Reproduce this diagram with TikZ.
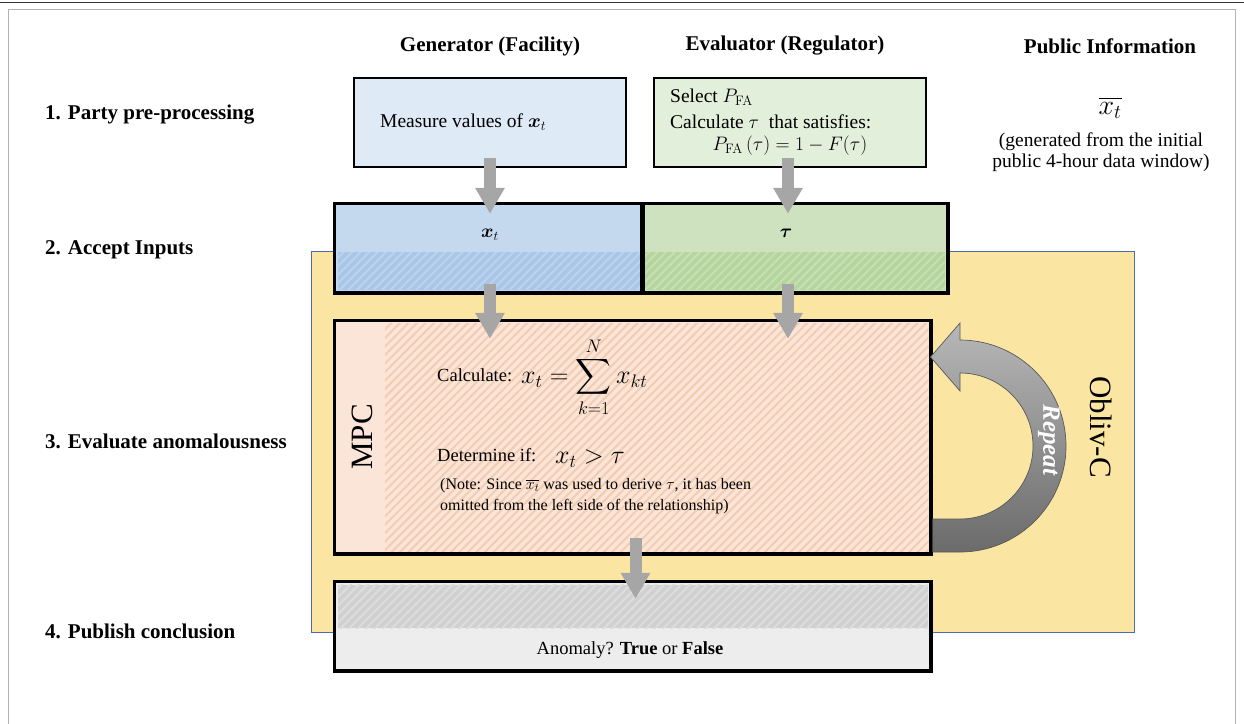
\RequirePackage{fix-cm}
\documentclass[tikz,border=0pt]{standalone}
\usepackage{amsmath,bm}
\usepackage[no-math]{fontspec}
\setmainfont{Liberation Serif}
\usetikzlibrary{patterns.meta,arrows.meta,shadings}
\newcommand\fsz[1]{\fontsize{#1}{1.1\dimexpr#1pt\relax}\selectfont}
\newcommand\fszl[2]{\fontsize{#1}{#2}\selectfont}
\definecolor{bluebox}{HTML}{DEEAF6}
\definecolor{greenbox}{HTML}{E2EFDA}
\definecolor{bluein}{HTML}{C5D9EE}
\definecolor{blueinh}{HTML}{A9C6E8}
\definecolor{blueins}{HTML}{BCD3EE}
\definecolor{greenin}{HTML}{CFE2BF}
\definecolor{greeninh}{HTML}{B4D69E}
\definecolor{greenins}{HTML}{C6E0B4}
\definecolor{yellowbg}{HTML}{FBE5A2}
\definecolor{yellowbd}{HTML}{4A6BAF}
\definecolor{mpcfill}{HTML}{FAE5D8}
\definecolor{mpcstripe}{HTML}{F4CCB0}
\definecolor{outfill}{HTML}{EDEDED}
\definecolor{outh}{HTML}{D0D0D0}
\definecolor{outs}{HTML}{DDDDDD}
\definecolor{arrowgray}{HTML}{A6A6A6}
\tikzset{
  hdr/.style={font=\fsz{21}\bfseries, inner sep=0pt},
  rowlab/.style={font=\fsz{21}\bfseries, anchor=west, inner sep=0pt},
  body/.style={font=\fsz{19.5}, inner sep=0pt},
  boxed/.style={draw=black, line width=2.5pt, minimum width=#1, inner sep=0pt},
  blockarrow/.style={draw=arrowgray, line width=12pt,
    -{Triangle[width=28pt,length=26pt]}, arrowgray},
}
\begin{document}
\begin{tikzpicture}[x=1pt,y=-1pt]
\useasboundingbox (0,0) rectangle (1244,723);
% page frame
\draw[black!80, line width=1.5pt] (0,2.5) -- (1244,2.5);
\draw[black!30, line width=1pt] (8,730) -- (8,9.5) -- (1235,9.5) -- (1235,730);

% headers
\node[hdr] (hgen) at (490,46) {Generator (Facility)};
\node[hdr] (hev) at (785,46) {Evaluator (Regulator)};
\node[hdr] (hpub) at (1110,46) {Public Information};

% row labels
\node[rowlab] (r1) at (45,115) {1. Party pre-processing};
\node[rowlab] (r2) at (45,250) {2. Accept Inputs};
\node[rowlab] (r3) at (45,441) {3. Evaluate anomalousness};
\node[rowlab] (r4) at (45,631) {4. Publish conclusion};

% Obliv-C area
\draw[fill=yellowbg, draw=yellowbd, line width=1pt] (311,251) rectangle (1134,632);
\node[font=\fsz{31}, rotate=-90, inner sep=0pt] (obliv) at (1101,427) {Obliv-C};

% pre-processing boxes
\node[boxed=272pt, minimum height=89pt, fill=bluebox] (b1) at (490,122.5) {};
\node[body, anchor=west] (t1) at (380,122) {Measure values of $\bm{x}_t$};
\node[boxed=272pt, minimum height=89pt, fill=greenbox] (b2) at (790,122.5) {};
\node[body, anchor=west] (t2a) at (670,97) {Select $P_{\mathrm{FA}}$};
\node[body, anchor=west] (t2b) at (670,122) {Calculate $\tau$ \ that satisfies:};
\node[body] (t2c) at (790,146) {$P_{\mathrm{FA}}\,(\tau) = 1 - F(\tau)$};

% public info
\node[font=\fsz{28}, inner sep=0pt] (xbar) at (1110,108) {$\overline{x_t}$};
\node[font=\fszl{19.5}{21pt}, inner sep=0pt, align=center] (pubtxt) at (1101,152.5) {(generated from the initial\\public 4-hour data window)};

% input boxes
\node[boxed=307pt, minimum height=88pt, fill=bluein] (xin) at (488.5,248) {};
\node[boxed=305pt, minimum height=88pt, fill=greenin] (tin) at (794.5,248) {};
\fill[blueinh] (337.5,252) rectangle (640.5,290);
\fill[pattern={Lines[angle=45,distance=6pt,line width=2pt]}, pattern color=blueins] (337.5,252) rectangle (640.5,290);
\fill[greeninh] (643.5,252) rectangle (945,290);
\fill[pattern={Lines[angle=45,distance=6pt,line width=2pt]}, pattern color=greenins] (643.5,252) rectangle (945,290);
\draw[line width=2.5pt] (xin.north west) rectangle (xin.south east);
\draw[line width=2.5pt] (tin.north west) rectangle (tin.south east);
\node[font=\fsz{19}, inner sep=0pt] (xlab) at (490,235) {$\bm{x}_t$};
\node[font=\fsz{19}, inner sep=0pt] (tlab) at (786,233) {$\bm{\tau}$};

% MPC box
\node[boxed=595pt, minimum height=232pt, fill=mpcfill] (mpc) at (632.5,437) {};
\fill[pattern={Lines[angle=45,distance=6pt,line width=2pt]}, pattern color=mpcstripe] (385,323) rectangle (928.5,551);
\draw[line width=2.5pt] (mpc.north west) rectangle (mpc.south east);
\node[font=\fsz{31}, rotate=90, inner sep=0pt] (mpclab) at (362,437) {MPC};
\node[font=\fsz{18.5}, anchor=west, inner sep=0pt] (calc) at (437,375) {Calculate:};
\node[font=\fsz{26}, anchor=west, inner sep=0pt] (sumf) at (521,377) {$\displaystyle x_t = \sum_{k=1}^{N} x_{kt}$};
\node[font=\fsz{18.5}, anchor=west, inner sep=0pt] (det) at (437,455) {Determine if:};
\node[font=\fsz{26}, anchor=west, inner sep=0pt] (ineq) at (555,459) {$x_t > \tau$};
\node[font=\fszl{16}{21pt}, anchor=north west, align=left, inner sep=0pt] (note) at (440,478)
  {(Note: Since $\overline{x_t}$ was used to derive $\tau$, it has been\\omitted from the left side of the relationship)};

% output box
\node[boxed=595pt, minimum height=88pt, fill=outfill] (out) at (632.5,626) {};
\fill[outh] (337.5,584.5) rectangle (928,628);
\fill[pattern={Lines[angle=45,distance=6pt,line width=2pt]}, pattern color=outs] (337.5,584.5) rectangle (928,628);
\draw[line width=2.5pt] (out.north west) rectangle (out.south east);
\node[font=\fsz{18.5}, inner sep=0pt] (anom) at (630,650) {Anomaly? \textbf{True} or \textbf{False}};

% block arrows
\draw[blockarrow] ([yshift=10pt]b1.south) -- ([yshift=-11pt]b1.south |- xin.north);
\draw[blockarrow] ([xshift=-2pt,yshift=10pt]b2.south) -- ([xshift=-2pt,yshift=-11pt]b2.south |- tin.north);
\draw[blockarrow] ([yshift=9pt]b1.south |- xin.south) -- ([yshift=-19pt]b1.south |- mpc.north);
\draw[blockarrow] ([xshift=-2pt,yshift=9pt]b2.south |- tin.south) -- ([xshift=-2pt,yshift=-19pt]b2.south |- mpc.north);
\draw[blockarrow] ([xshift=3pt,yshift=16pt]mpc.south) -- ([xshift=3pt,yshift=-18pt]out.north);

% repeat arrow
\coordinate (rstart) at ([xshift=1.5pt]mpc.east |- 0,552);
\path[draw=black!65, line width=0.7pt, top color=black!28, bottom color=black!58]
  (rstart) -- (960,552) arc[start angle=-90, end angle=90, radius=106pt]
  -- (960,323) -- (930.5,357) -- (960,391) -- (960,373)
  arc[start angle=90, end angle=-90, radius=73pt] -- ([yshift=33pt]rstart) -- cycle;
\node[font=\fsz{25}\bfseries\itshape, text=white, rotate=-90, inner sep=0pt] (rep) at (1049,440) {Repeat};
\end{tikzpicture}
\end{document}
